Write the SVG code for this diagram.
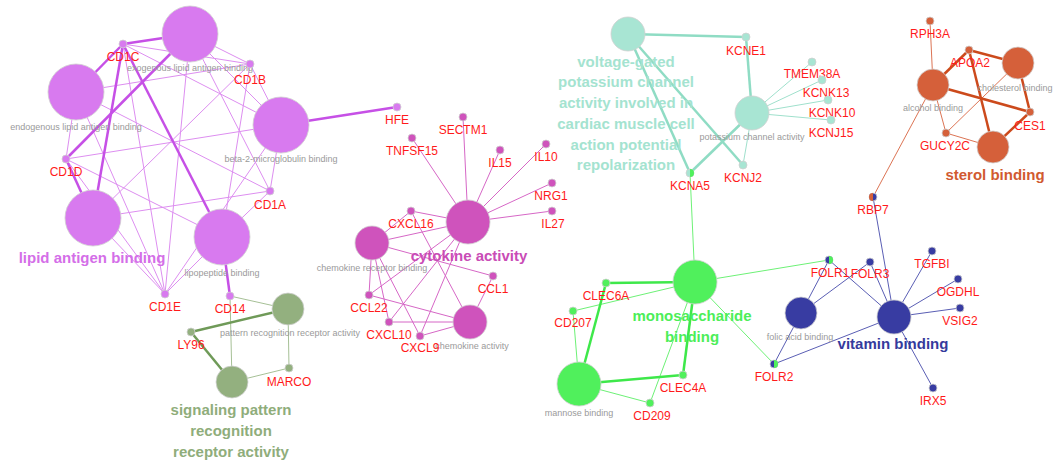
<svg xmlns="http://www.w3.org/2000/svg" width="1058" height="461" viewBox="0 0 1058 461">
<style>
text{font-family:"Liberation Sans",Arial,sans-serif;text-anchor:middle}
.g{font-size:12px;fill:#ff1a1a}
.t{font-size:9px;fill:#9a9a9a}
.b{font-size:15px;font-weight:bold}
circle{stroke:#d0d0d0;stroke-width:0.8}
.pu{fill:#d87aef}.mg{fill:#cf53bc}.tl{fill:#a8e5d3}.or{fill:#d5603a}.gr{fill:#50f05c}.bl{fill:#383ca2}.ol{fill:#93b07f}
.e1{stroke:#dd8ef0;stroke-width:1;fill:none}
.e1t{stroke:#c650e6;stroke-width:2.5;fill:none}
.e2{stroke:#d667c6;stroke-width:1;fill:none}
.e3{stroke:#9fe0cc;stroke-width:1;fill:none}
.e3t{stroke:#8fdcc4;stroke-width:2.5;fill:none}
.e4{stroke:#dc7454;stroke-width:1;fill:none}
.e4t{stroke:#cc4a1c;stroke-width:2.5;fill:none}
.e5{stroke:#6df176;stroke-width:1;fill:none}
.e5t{stroke:#3ee84a;stroke-width:2.5;fill:none}
.e6{stroke:#5a5eb4;stroke-width:1;fill:none}
.e7{stroke:#a6c096;stroke-width:1;fill:none}
.e7t{stroke:#6f9a58;stroke-width:2.5;fill:none}
</style>
<g id="connectors">
<line class="e1" x1="190" y1="34" x2="250" y2="64"/>
<line class="e1" x1="190" y1="34" x2="270" y2="191"/>
<line class="e1" x1="190" y1="34" x2="165" y2="294"/>
<line class="e1" x1="190" y1="34" x2="281" y2="125"/>
<line class="e1" x1="76" y1="92" x2="250" y2="64"/>
<line class="e1" x1="76" y1="92" x2="270" y2="191"/>
<line class="e1" x1="76" y1="92" x2="165" y2="294"/>
<line class="e1" x1="76" y1="92" x2="66" y2="159"/>
<line class="e1" x1="281" y1="125" x2="66" y2="159"/>
<line class="e1" x1="281" y1="125" x2="270" y2="191"/>
<line class="e1" x1="281" y1="125" x2="165" y2="294"/>
<line class="e1" x1="281" y1="125" x2="250" y2="64"/>
<line class="e1" x1="281" y1="125" x2="123" y2="44"/>
<line class="e1" x1="93" y1="218" x2="250" y2="64"/>
<line class="e1" x1="93" y1="218" x2="270" y2="191"/>
<line class="e1" x1="93" y1="218" x2="165" y2="294"/>
<line class="e1" x1="222" y1="237" x2="250" y2="64"/>
<line class="e1" x1="222" y1="237" x2="270" y2="191"/>
<line class="e1" x1="222" y1="237" x2="66" y2="159"/>
<line class="e1" x1="222" y1="237" x2="165" y2="294"/>
<line class="e1" x1="66" y1="159" x2="165" y2="294"/>
<line class="e1" x1="123" y1="44" x2="165" y2="294"/>
<line class="e1" x1="123" y1="44" x2="250" y2="64"/>
<line class="e1t" x1="190" y1="34" x2="123" y2="44"/>
<line class="e1t" x1="76" y1="92" x2="123" y2="44"/>
<line class="e1t" x1="93" y1="218" x2="123" y2="44"/>
<line class="e1t" x1="222" y1="237" x2="123" y2="44"/>
<line class="e1t" x1="190" y1="34" x2="66" y2="159"/>
<line class="e1t" x1="93" y1="218" x2="66" y2="159"/>
<line class="e1t" x1="222" y1="237" x2="230" y2="296"/>
<line class="e1t" x1="281" y1="125" x2="397" y2="107"/>
<line class="e7" x1="230" y1="296" x2="288" y2="309"/>
<line class="e7" x1="230" y1="296" x2="232" y2="382"/>
<line class="e7" x1="288" y1="309" x2="289" y2="368"/>
<line class="e7" x1="289" y1="368" x2="232" y2="382"/>
<line class="e7t" x1="191" y1="332" x2="288" y2="309"/>
<line class="e7t" x1="191" y1="332" x2="232" y2="382"/>
<line class="e2" x1="468" y1="222" x2="463" y2="117"/>
<line class="e2" x1="468" y1="222" x2="412" y2="138"/>
<line class="e2" x1="468" y1="222" x2="500" y2="150"/>
<line class="e2" x1="468" y1="222" x2="546" y2="144"/>
<line class="e2" x1="468" y1="222" x2="552" y2="183"/>
<line class="e2" x1="468" y1="222" x2="552" y2="211"/>
<line class="e2" x1="468" y1="222" x2="411" y2="211"/>
<line class="e2" x1="468" y1="222" x2="369" y2="295"/>
<line class="e2" x1="468" y1="222" x2="389" y2="322"/>
<line class="e2" x1="468" y1="222" x2="420" y2="336"/>
<line class="e2" x1="468" y1="222" x2="372" y2="243"/>
<line class="e2" x1="372" y1="243" x2="411" y2="211"/>
<line class="e2" x1="372" y1="243" x2="493" y2="276"/>
<line class="e2" x1="372" y1="243" x2="369" y2="295"/>
<line class="e2" x1="372" y1="243" x2="389" y2="322"/>
<line class="e2" x1="372" y1="243" x2="420" y2="336"/>
<line class="e2" x1="470" y1="322" x2="411" y2="211"/>
<line class="e2" x1="470" y1="322" x2="493" y2="276"/>
<line class="e2" x1="470" y1="322" x2="369" y2="295"/>
<line class="e2" x1="470" y1="322" x2="389" y2="322"/>
<line class="e2" x1="470" y1="322" x2="420" y2="336"/>
<line class="e3t" x1="628" y1="34" x2="746" y2="37"/>
<line class="e3t" x1="746" y1="37" x2="752" y2="113"/>
<line class="e3t" x1="628" y1="34" x2="690" y2="173"/>
<line class="e3t" x1="628" y1="34" x2="743" y2="165"/>
<line class="e3t" x1="752" y1="113" x2="690" y2="173"/>
<line class="e3" x1="752" y1="113" x2="743" y2="165"/>
<line class="e3" x1="752" y1="113" x2="812" y2="62"/>
<line class="e3" x1="752" y1="113" x2="822" y2="80"/>
<line class="e3" x1="752" y1="113" x2="828" y2="100"/>
<line class="e3" x1="752" y1="113" x2="831" y2="120"/>
<line class="e4" x1="933" y1="85" x2="930" y2="21"/>
<line class="e4" x1="933" y1="85" x2="873" y2="197"/>
<line class="e4" x1="933" y1="85" x2="946" y2="133"/>
<line class="e4" x1="1018" y1="63" x2="946" y2="133"/>
<line class="e4" x1="993" y1="147" x2="946" y2="133"/>
<line class="e4t" x1="933" y1="85" x2="969" y2="50"/>
<line class="e4t" x1="1018" y1="63" x2="969" y2="50"/>
<line class="e4t" x1="993" y1="147" x2="969" y2="50"/>
<line class="e4t" x1="933" y1="85" x2="1030" y2="112"/>
<line class="e4t" x1="1018" y1="63" x2="1030" y2="112"/>
<line class="e4t" x1="993" y1="147" x2="1030" y2="112"/>
<line class="e5" x1="695" y1="282" x2="690" y2="173"/>
<line class="e5" x1="695" y1="282" x2="829" y2="260"/>
<line class="e5" x1="695" y1="282" x2="774" y2="364"/>
<line class="e5" x1="695" y1="282" x2="573" y2="311"/>
<line class="e5" x1="695" y1="282" x2="650" y2="403"/>
<line class="e5" x1="579" y1="384" x2="573" y2="311"/>
<line class="e5" x1="579" y1="384" x2="650" y2="403"/>
<line class="e5t" x1="695" y1="282" x2="606" y2="283"/>
<line class="e5t" x1="579" y1="384" x2="606" y2="283"/>
<line class="e5t" x1="579" y1="384" x2="683" y2="375"/>
<line class="e5t" x1="695" y1="282" x2="683" y2="375"/>
<line class="e6" x1="801" y1="313" x2="829" y2="260"/>
<line class="e6" x1="801" y1="313" x2="870" y2="262"/>
<line class="e6" x1="801" y1="313" x2="774" y2="364"/>
<line class="e6" x1="894" y1="317" x2="829" y2="260"/>
<line class="e6" x1="894" y1="317" x2="870" y2="262"/>
<line class="e6" x1="894" y1="317" x2="774" y2="364"/>
<line class="e6" x1="894" y1="317" x2="873" y2="197"/>
<line class="e6" x1="894" y1="317" x2="932" y2="251"/>
<line class="e6" x1="894" y1="317" x2="958" y2="279"/>
<line class="e6" x1="894" y1="317" x2="960" y2="308"/>
<line class="e6" x1="894" y1="317" x2="933" y2="388"/>
</g>
<g id="n-exogenous"><circle class="pu" cx="190" cy="34" r="28"/><text class="t" x="190" y="71">exogenous lipid antigen binding</text></g>
<g id="n-endogenous"><circle class="pu" cx="76" cy="92" r="28"/><text class="t" x="76" y="130">endogenous lipid antigen binding</text></g>
<g id="n-beta2"><circle class="pu" cx="281" cy="125" r="28"/><text class="t" x="281" y="162">beta-2-microglobulin binding</text></g>
<g id="n-lipidantigen"><circle class="pu" cx="93" cy="218" r="28"/><text class="b" x="92" y="263" fill="#d46ee8">lipid antigen binding</text></g>
<g id="n-lipopeptide"><circle class="pu" cx="222" cy="237" r="28"/><text class="t" x="222" y="276">lipopeptide binding</text></g>
<g id="n-CD1C"><circle class="pu" cx="123" cy="44" r="4"/><text class="g" x="123" y="61">CD1C</text></g>
<g id="n-CD1B"><circle class="pu" cx="250" cy="64" r="4"/><text class="g" x="250" y="84">CD1B</text></g>
<g id="n-CD1D"><circle class="pu" cx="66" cy="159" r="4"/><text class="g" x="66" y="176">CD1D</text></g>
<g id="n-CD1A"><circle class="pu" cx="270" cy="191" r="4"/><text class="g" x="270" y="209">CD1A</text></g>
<g id="n-CD1E"><circle class="pu" cx="165" cy="294" r="4"/><text class="g" x="165" y="311">CD1E</text></g>
<g id="n-CD14"><circle class="pu" cx="230" cy="296" r="4"/><text class="g" x="230" y="313">CD14</text></g>
<g id="n-HFE"><circle class="pu" cx="397" cy="107" r="4"/><text class="g" x="397" y="124">HFE</text></g>
<g id="n-patternrec"><circle class="ol" cx="288" cy="309" r="16"/><text class="t" x="290" y="336">pattern recognition receptor activity</text></g>
<g id="n-signaling"><circle class="ol" cx="232" cy="382" r="16"/><text class="b" x="231" y="415" fill="#8fad7b">signaling pattern</text><text class="b" x="231" y="436" fill="#8fad7b">recognition</text><text class="b" x="231" y="457" fill="#8fad7b">receptor activity</text></g>
<g id="n-LY96"><circle class="ol" cx="191" cy="332" r="4"/><text class="g" x="191" y="349">LY96</text></g>
<g id="n-MARCO"><circle class="ol" cx="289" cy="368" r="4"/><text class="g" x="289" y="386">MARCO</text></g>
<g id="n-cytokine"><circle class="mg" cx="468" cy="222" r="22"/><text class="b" x="469" y="261" fill="#c94cb6">cytokine activity</text></g>
<g id="n-chemrec"><circle class="mg" cx="372" cy="243" r="17"/><text class="t" x="372" y="271">chemokine receptor binding</text></g>
<g id="n-chemact"><circle class="mg" cx="470" cy="322" r="17"/><text class="t" x="472" y="349">chemokine activity</text></g>
<g id="n-SECTM1"><circle class="mg" cx="463" cy="117" r="4"/><text class="g" x="463" y="134">SECTM1</text></g>
<g id="n-TNFSF15"><circle class="mg" cx="412" cy="138" r="4"/><text class="g" x="412" y="155">TNFSF15</text></g>
<g id="n-IL15"><circle class="mg" cx="500" cy="150" r="4"/><text class="g" x="500" y="167">IL15</text></g>
<g id="n-IL10"><circle class="mg" cx="546" cy="144" r="4"/><text class="g" x="546" y="161">IL10</text></g>
<g id="n-NRG1"><circle class="mg" cx="552" cy="183" r="4"/><text class="g" x="551" y="200">NRG1</text></g>
<g id="n-IL27"><circle class="mg" cx="552" cy="211" r="4"/><text class="g" x="553" y="228">IL27</text></g>
<g id="n-CXCL16"><circle class="mg" cx="411" cy="211" r="4"/><text class="g" x="411" y="228">CXCL16</text></g>
<g id="n-CCL1"><circle class="mg" cx="493" cy="276" r="4"/><text class="g" x="493" y="293">CCL1</text></g>
<g id="n-CCL22"><circle class="mg" cx="369" cy="295" r="4"/><text class="g" x="369" y="312">CCL22</text></g>
<g id="n-CXCL10"><circle class="mg" cx="389" cy="322" r="4"/><text class="g" x="389" y="339">CXCL10</text></g>
<g id="n-CXCL9"><circle class="mg" cx="420" cy="336" r="4"/><text class="g" x="420" y="352">CXCL9</text></g>
<g id="n-voltage"><circle class="tl" cx="628" cy="34" r="17"/>
<text class="b" x="626" y="67" fill="#a4e3d0">voltage-gated</text>
<text class="b" x="626" y="87" fill="#a4e3d0">potassium channel</text>
<text class="b" x="626" y="108" fill="#a4e3d0">activity involved in</text>
<text class="b" x="626" y="129" fill="#a4e3d0">cardiac muscle cell</text>
<text class="b" x="626" y="150" fill="#a4e3d0">action potential</text>
<text class="b" x="626" y="170" fill="#a4e3d0">repolarization</text></g>
<g id="n-potassium"><circle class="tl" cx="752" cy="113" r="17"/><text class="t" x="752" y="140">potassium channel activity</text></g>
<g id="n-KCNE1"><circle class="tl" cx="746" cy="37" r="4"/><text class="g" x="746" y="55">KCNE1</text></g>
<g id="n-TMEM38A"><circle class="tl" cx="812" cy="62" r="4"/><text class="g" x="812" y="78">TMEM38A</text></g>
<g id="n-KCNK13"><circle class="tl" cx="822" cy="80" r="4"/><text class="g" x="826" y="97">KCNK13</text></g>
<g id="n-KCNK10"><circle class="tl" cx="828" cy="100" r="4"/><text class="g" x="832" y="117">KCNK10</text></g>
<g id="n-KCNJ15"><circle class="tl" cx="831" cy="120" r="4"/><text class="g" x="831" y="137">KCNJ15</text></g>
<g id="n-KCNJ2"><circle class="tl" cx="743" cy="165" r="4"/><text class="g" x="743" y="182">KCNJ2</text></g>
<g id="n-KCNA5"><circle class="tl" cx="690" cy="173" r="4"/><path d="M690 169 A4 4 0 0 1 690 177 Z" fill="#50f05c"/><text class="g" x="690" y="190">KCNA5</text></g>
<g id="n-alcohol"><circle class="or" cx="933" cy="85" r="16"/><text class="t" x="933" y="111">alcohol binding</text></g>
<g id="n-cholesterol"><circle class="or" cx="1018" cy="63" r="16"/><text class="t" x="1015" y="91">cholesterol binding</text></g>
<g id="n-sterol"><circle class="or" cx="993" cy="147" r="16"/><text class="b" x="995" y="180" fill="#d15a30">sterol binding</text></g>
<g id="n-RPH3A"><circle class="or" cx="930" cy="21" r="4"/><text class="g" x="930" y="38">RPH3A</text></g>
<g id="n-APOA2"><circle class="or" cx="969" cy="50" r="4"/><text class="g" x="970" y="67">APOA2</text></g>
<g id="n-CES1"><circle class="or" cx="1030" cy="112" r="4"/><text class="g" x="1030" y="130">CES1</text></g>
<g id="n-GUCY2C"><circle class="or" cx="946" cy="133" r="4"/><text class="g" x="945" y="150">GUCY2C</text></g>
<g id="n-RBP7"><circle class="bl" cx="873" cy="197" r="4"/><path d="M873 193 A4 4 0 0 0 873 201 Z" fill="#d5603a"/><text class="g" x="873" y="214">RBP7</text></g>
<g id="n-monosaccharide"><circle class="gr" cx="695" cy="282" r="22"/><text class="b" x="692" y="321" fill="#4cee58">monosaccharide</text><text class="b" x="692" y="342" fill="#4cee58">binding</text></g>
<g id="n-mannose"><circle class="gr" cx="579" cy="384" r="22"/><text class="t" x="579" y="416">mannose binding</text></g>
<g id="n-CLEC6A"><circle class="gr" cx="606" cy="283" r="4"/><text class="g" x="606" y="300">CLEC6A</text></g>
<g id="n-CD207"><circle class="gr" cx="573" cy="311" r="4"/><text class="g" x="573" y="327">CD207</text></g>
<g id="n-CLEC4A"><circle class="gr" cx="683" cy="375" r="4"/><text class="g" x="683" y="392">CLEC4A</text></g>
<g id="n-CD209"><circle class="gr" cx="650" cy="403" r="4"/><text class="g" x="652" y="420">CD209</text></g>
<g id="n-folic"><circle class="bl" cx="801" cy="313" r="16"/><text class="t" x="800" y="340">folic acid binding</text></g>
<g id="n-vitamin"><circle class="bl" cx="894" cy="317" r="17"/><text class="b" x="893" y="349" fill="#353a9c">vitamin binding</text></g>
<g id="n-FOLR1"><circle class="bl" cx="829" cy="260" r="4"/><path d="M829 256 A4 4 0 0 1 829 264 Z" fill="#50f05c"/><text class="g" x="830" y="277">FOLR1</text></g>
<g id="n-FOLR3"><circle class="bl" cx="870" cy="262" r="4"/><text class="g" x="870" y="278">FOLR3</text></g>
<g id="n-FOLR2"><circle class="bl" cx="774" cy="364" r="4"/><path d="M774 360 A4 4 0 0 1 774 368 Z" fill="#50f05c"/><text class="g" x="774" y="381">FOLR2</text></g>
<g id="n-TGFBI"><circle class="bl" cx="932" cy="251" r="4"/><text class="g" x="932" y="268">TGFBI</text></g>
<g id="n-OGDHL"><circle class="bl" cx="958" cy="279" r="4"/><text class="g" x="958" y="296">OGDHL</text></g>
<g id="n-VSIG2"><circle class="bl" cx="960" cy="308" r="4"/><text class="g" x="960" y="325">VSIG2</text></g>
<g id="n-IRX5"><circle class="bl" cx="933" cy="388" r="4"/><text class="g" x="933" y="405">IRX5</text></g>
</svg>
